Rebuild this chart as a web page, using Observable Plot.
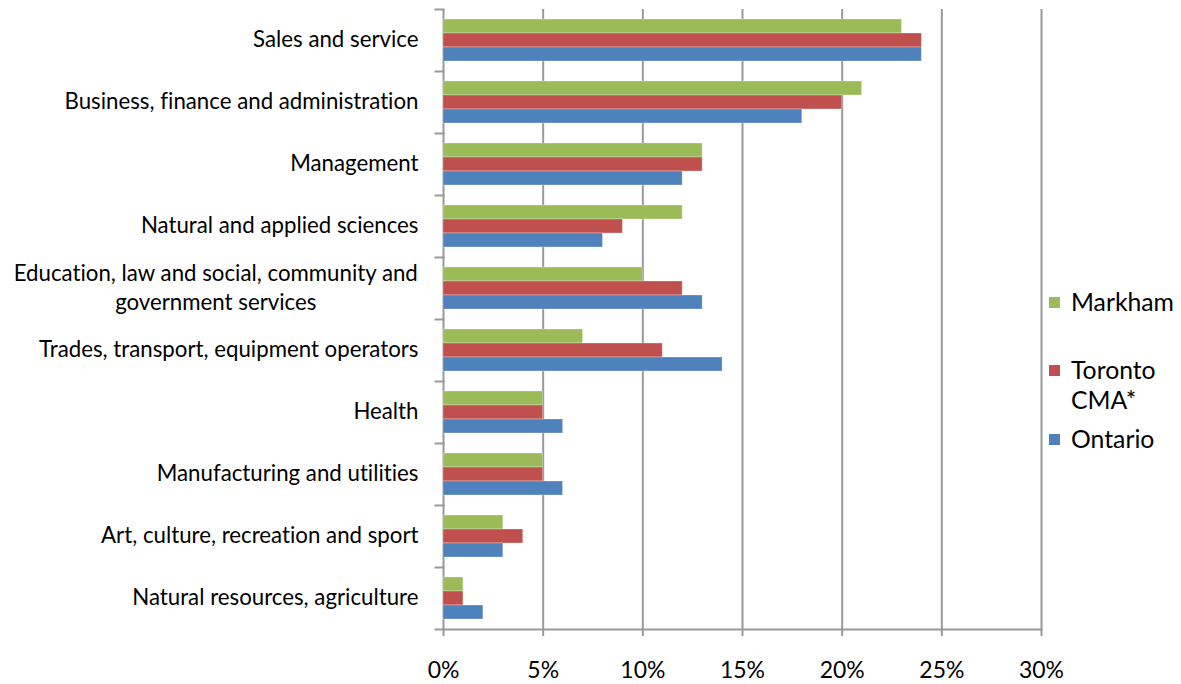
<!DOCTYPE html>
<html><head><meta charset="utf-8">
<script src="https://cdn.jsdelivr.net/npm/d3@7"></script>
<script src="https://cdn.jsdelivr.net/npm/@observablehq/plot@0.6"></script>
<style>
body{margin:0;background:#fff;font-family:Lato,sans-serif;}
#wrap{position:relative;width:1181px;height:684px;overflow:hidden;}
svg text, .leg{font-variant-ligatures:none;font-feature-settings:"liga" 0;}
.leg{position:absolute;left:1049px;line-height:30px;color:#000;}
.leg .sw{position:absolute;left:0;top:10px;width:11px;height:11px;}
.leg .tx{position:absolute;left:22px;top:0;white-space:nowrap;}
</style>
</head><body><div id="wrap"></div>
<script>
const categories = [
  "Sales and service",
  "Business, finance and administration",
  "Management",
  "Natural and applied sciences",
  "Education, law and social, community and government services",
  "Trades, transport, equipment operators",
  "Health",
  "Manufacturing and utilities",
  "Art, culture, recreation and sport",
  "Natural resources, agriculture"
];
const seriesNames = ["Markham", "Toronto CMA*", "Ontario"];
const markham = [23, 21, 13, 12, 10, 7, 5, 5, 3, 1];
const toronto = [24, 20, 13, 9, 12, 11, 5, 5, 4, 1];
const ontario = [24, 18, 12, 8, 13, 14, 6, 6, 3, 2];
const colors = ["#9BBB59", "#C0504D", "#4F81BD"];
const xTicks = [0, 5, 10, 15, 20, 25, 30];
const multiLine = {"Education, law and social, community and government services": ["Education, law and social, community and", "government services"]};

const data = categories.flatMap((c, i) => [
  {category: c, series: seriesNames[0], value: markham[i]},
  {category: c, series: seriesNames[1], value: toronto[i]},
  {category: c, series: seriesNames[2], value: ontario[i]}
]);

const FONT = "Lato";
const W = 1181, H = 684, mL = 443, mR = 140, mT = 8, mB = 55;
const ctx = document.createElement("canvas").getContext("2d");
function fit(str, target) {
  ctx.font = `20px "${FONT}"`;
  return 20 * target / ctx.measureText(str).width;
}
function measure(str, size) {
  ctx.font = `${size}px "${FONT}"`;
  return ctx.measureText(str).width;
}
const labelSize = fit("Business, finance and administration", 354);
const tickSize = fit("30%", 45);
const legendSize = fit("Markham", 103);
const labelGap = 25;

const singleCats = categories.filter(c => !multiLine[c]);
const multiCats = categories.filter(c => multiLine[c]);
const multiMarks = multiCats.map(c => {
  const w = measure(multiLine[c][0], labelSize);
  return Plot.text([c], {fy: d => d, text: d => multiLine[d].join("\n"), frameAnchor: "left",
    textAnchor: "middle", dx: -labelGap - w / 2, dy: -2, fontSize: labelSize, lineHeight: 1.3, fill: "#000"});
});

const chart = Plot.plot({
  width: W, height: H,
  marginLeft: mL, marginRight: mR, marginTop: mT, marginBottom: mB,
  style: {fontFamily: `"${FONT}", sans-serif`, fontSize: "18px", background: "#fff", color: "#000"},
  x: {domain: [0, 30], axis: null},
  y: {domain: seriesNames, paddingInner: 0, paddingOuter: 10 / 14, axis: null},
  fy: {domain: categories, padding: 0, axis: null},
  color: {domain: seriesNames, range: colors},
  marks: [
    Plot.ruleX(xTicks, {stroke: "#999", strokeWidth: 2}),
    Plot.frame({anchor: "top", insetLeft: -8, insetRight: W - mL - mR, stroke: "#999", strokeWidth: 2}),
    Plot.frame({anchor: "bottom", facet: "super", insetLeft: -8, stroke: "#999", strokeWidth: 2}),
    Plot.barX(data, {fy: "category", y: "series", x: "value", fill: "series", stroke: "#fff", strokeOpacity: 0.3, strokeWidth: 1}),
    Plot.axisX(xTicks, {tickSize: 7, stroke: "#999", strokeWidth: 2, tickFormat: d => d + "%", fontSize: tickSize, tickPadding: 25, fill: "#000", label: null}),
    Plot.text(singleCats, {fy: d => d, text: d => d, frameAnchor: "left", textAnchor: "end", dx: -labelGap, dy: -1, fontSize: labelSize, fill: "#000"}),
    ...multiMarks
  ]
});
const wrap = document.getElementById("wrap");
wrap.appendChild(chart);

const legendItems = [
  {lines: ["Markham"], top: 287},
  {lines: ["Toronto", "CMA*"], top: 355},
  {lines: ["Ontario"], top: 424}
];
legendItems.forEach((it, i) => {
  const d = document.createElement("div");
  d.className = "leg";
  d.style.top = it.top + "px";
  d.style.fontSize = legendSize + "px";
  d.innerHTML = `<div class="sw" style="background:${colors[i]}"></div><div class="tx">${it.lines.join("<br>")}</div>`;
  wrap.appendChild(d);
});
</script>
</body></html>
